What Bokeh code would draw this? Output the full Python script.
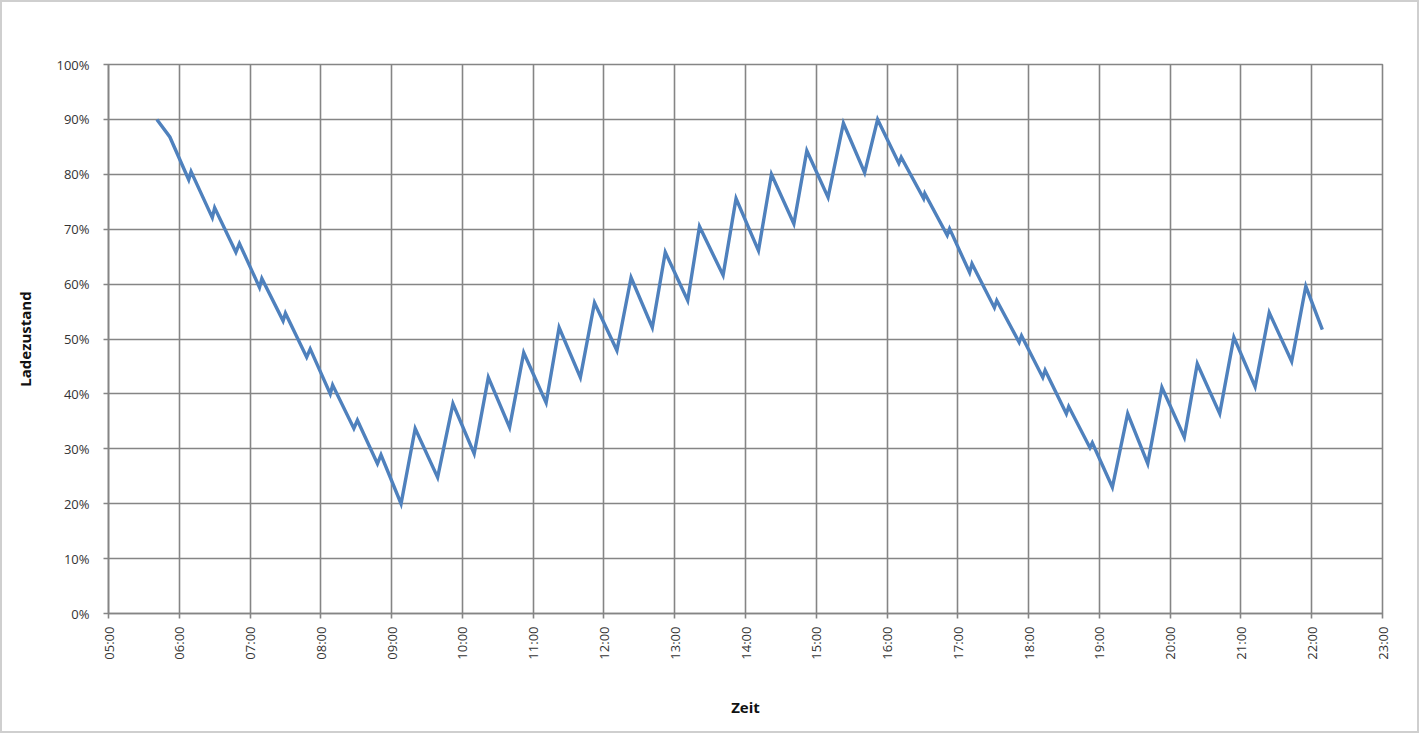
import math
from bokeh.plotting import figure
from bokeh.models import FixedTicker, NumeralTickFormatter, Range1d
from bokeh.embed import file_html
from bokeh.resources import INLINE

# Zeitpunkte (HH:MM) und Ladezustand (%)
times = [
    "05:41", "05:52",
    "06:08", "06:10", "06:28", "06:30", "06:48", "06:51",
    "07:08", "07:10", "07:28", "07:30", "07:48", "07:51",
    "08:08", "08:10", "08:28", "08:31", "08:48", "08:51",
    "09:08", "09:20", "09:39", "09:52",
    "10:10", "10:22", "10:40", "10:52",
    "11:11", "11:22", "11:40", "11:52",
    "12:11", "12:23", "12:41", "12:52",
    "13:11", "13:21", "13:41", "13:52",
    "14:11", "14:22", "14:41", "14:52",
    "15:10", "15:23", "15:41", "15:52",
    "16:10", "16:12", "16:31", "16:32", "16:51", "16:53",
    "17:10", "17:12", "17:31", "17:33", "17:52", "17:54",
    "18:12", "18:14", "18:32", "18:34", "18:52", "18:54",
    "19:11", "19:24", "19:41", "19:53",
    "20:12", "20:23", "20:42", "20:54",
    "21:12", "21:24", "21:43", "21:55",
    "22:09",
]
soc = [
    90.0, 86.8,
    79.0, 80.5, 72.1, 73.9, 65.8, 67.4,
    59.4, 61.0, 53.3, 54.7, 46.7, 48.2,
    40.0, 41.6, 33.7, 35.2, 27.3, 28.9,
    20.0, 33.7, 24.8, 38.2,
    29.1, 43.0, 33.9, 47.5,
    38.4, 52.1, 43.0, 56.6,
    47.9, 61.2, 52.1, 65.8,
    57.0, 70.5, 61.6, 75.6,
    66.1, 80.0, 71.0, 84.3,
    75.8, 89.3, 80.3, 90.0,
    82.0, 83.1, 75.6, 76.5, 68.9, 70.1,
    62.1, 63.7, 55.7, 57.0, 49.4, 50.6,
    43.0, 44.3, 36.4, 37.7, 30.2, 31.1,
    23.0, 36.4, 27.3, 41.2,
    32.1, 45.5, 36.4, 50.3,
    41.3, 54.8, 45.9, 59.6,
    51.7,
]
x_hours = list(range(5, 24))
x_tick_labels = [f"{h:02d}:00" for h in x_hours]
y_ticks = [i / 10 for i in range(11)]
x_title = "Zeit"
y_title = "Ladezustand"

def to_hours(s):
    h, m = s.split(":")
    return int(h) + int(m) / 60.0

xs = [to_hours(t) for t in times]
ys = [v / 100.0 for v in soc]

p = figure(width=1419, height=733, output_backend="svg", toolbar_location=None,
           x_range=Range1d(5, 23), y_range=Range1d(0, 1),
           min_border_left=106, min_border_right=39, min_border_top=62, min_border_bottom=122)
p.styles = {"border": "2px solid #cfcfcf", "box-sizing": "border-box"}

p.line(xs, ys, line_color="#4f81bd", line_width=3.4, line_join="miter")

grid_col = "#858585"
p.xaxis.ticker = FixedTicker(ticks=x_hours)
p.xaxis.major_label_overrides = {h: lab for h, lab in zip(x_hours, x_tick_labels)}
p.xaxis.major_label_orientation = math.pi / 2
p.yaxis.ticker = FixedTicker(ticks=y_ticks)
p.yaxis.formatter = NumeralTickFormatter(format="0%")

for ax in (p.xaxis[0], p.yaxis[0]):
    ax.axis_line_color = grid_col
    ax.axis_line_width = 1.6
    ax.major_tick_line_color = grid_col
    ax.major_tick_line_width = 1.6
    ax.major_tick_in = 0
    ax.major_tick_out = 5
    ax.minor_tick_line_color = None
    ax.major_label_text_font = "Open Sans"
    ax.major_label_text_font_size = "13px"
    ax.major_label_text_color = "#333333"
    ax.axis_label_text_font = "Open Sans"
    ax.axis_label_text_font_style = "bold"
    ax.axis_label_text_font_size = "15px"
    ax.axis_label_text_color = "#111111"

p.xaxis.major_label_standoff = 8
p.yaxis.major_label_standoff = 14
p.xaxis.axis_label = x_title
p.xaxis.axis_label_standoff = 34
p.yaxis.axis_label = y_title
p.yaxis.axis_label_standoff = 18

p.xgrid.ticker = FixedTicker(ticks=x_hours)
p.ygrid.ticker = FixedTicker(ticks=y_ticks)
for g in (p.xgrid[0], p.ygrid[0]):
    g.grid_line_color = grid_col
    g.grid_line_width = 1.6
p.outline_line_color = grid_col
p.outline_line_width = 1.6
p.background_fill_color = "white"
p.border_fill_color = "white"

open("out.html", "w").write(file_html(p, INLINE))
